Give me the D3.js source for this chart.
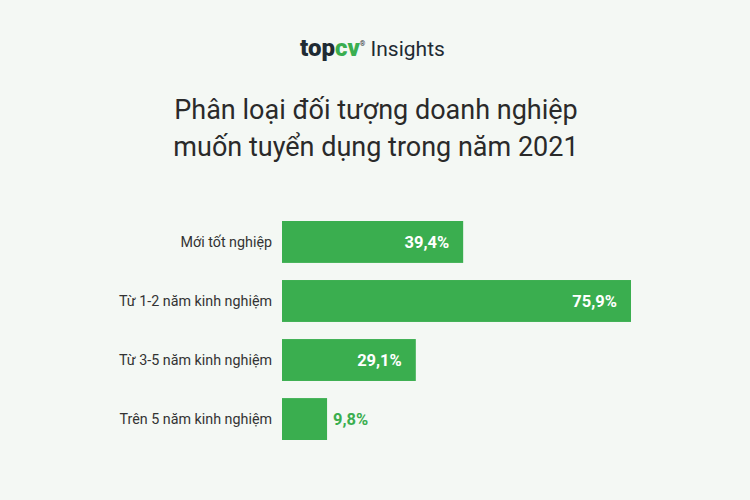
<!DOCTYPE html><html><head><meta charset="utf-8"><script src="https://cdn.jsdelivr.net/npm/d3@7"></script>
<style>body{margin:0;background:#f4f8f4}</style></head><body><svg width="750" height="500"></svg>
<script>
const categories=["Mới tốt nghiệp","Từ 1-2 năm kinh nghiệm","Từ 3-5 năm kinh nghiệm","Trên 5 năm kinh nghiệm"];
const values=[39.4,75.9,29.1,9.8];
const labels=["39,4%","75,9%","29,1%","9,8%"];
const svg=d3.select("svg");
svg.append("rect").attr("width",750).attr("height",500).attr("fill","#f4f8f4");
const font="Roboto, 'Open Sans', sans-serif";
const logo=svg.append("text").attr("x",300).attr("y",56).attr("font-family",font).attr("font-size",24);
logo.append("tspan").text("top").attr("font-weight","900").attr("fill","#1f2b33");
logo.append("tspan").text("cv").attr("font-weight","900").attr("fill","#3aae4f");
logo.append("tspan").text("®").attr("font-size",7).attr("dy",-10).attr("fill","#1f2b33");
logo.append("tspan").text(" Insights").attr("dy",10).attr("font-size",21).attr("fill","#1f2b33");
const t=svg.append("g").attr("font-family",font).attr("font-size",27).attr("fill","#2a2a2a").attr("text-anchor","middle");
t.append("text").attr("x",376).attr("y",119).text("Phân loại đối tượng doanh nghiệp");
t.append("text").attr("x",376).attr("y",156).text("muốn tuyển dụng trong năm 2021");
const x=d3.scaleLinear().domain([0,75.9]).range([282,631]);
const y=d3.scaleBand().domain(categories).range([221,440]).paddingInner(0.29).paddingOuter(0);
const g=svg.append("g").attr("font-family",font);
g.selectAll("rect.b").data(values).join("rect").attr("class","b").attr("x",x(0)).attr("y",(d,i)=>y(categories[i])).attr("width",d=>x(d)-x(0)).attr("height",y.bandwidth()).attr("fill","#3aae4f");
g.selectAll("text.c").data(categories).join("text").attr("class","c").attr("x",272).attr("y",d=>y(d)+y.bandwidth()/2+5).attr("text-anchor","end").attr("font-size",14.3).attr("fill","#333").text(d=>d);
g.selectAll("text.v").data(values).join("text").attr("class","v").attr("font-size",16.5).attr("font-weight","bold")
 .attr("x",d=>d>20?x(d)-14:x(d)+6).attr("text-anchor",d=>d>20?"end":"start")
 .attr("y",(d,i)=>y(categories[i])+y.bandwidth()/2+6).attr("fill",d=>d>20?"#fff":"#3aae4f").text((d,i)=>labels[i]);
</script></body></html>
